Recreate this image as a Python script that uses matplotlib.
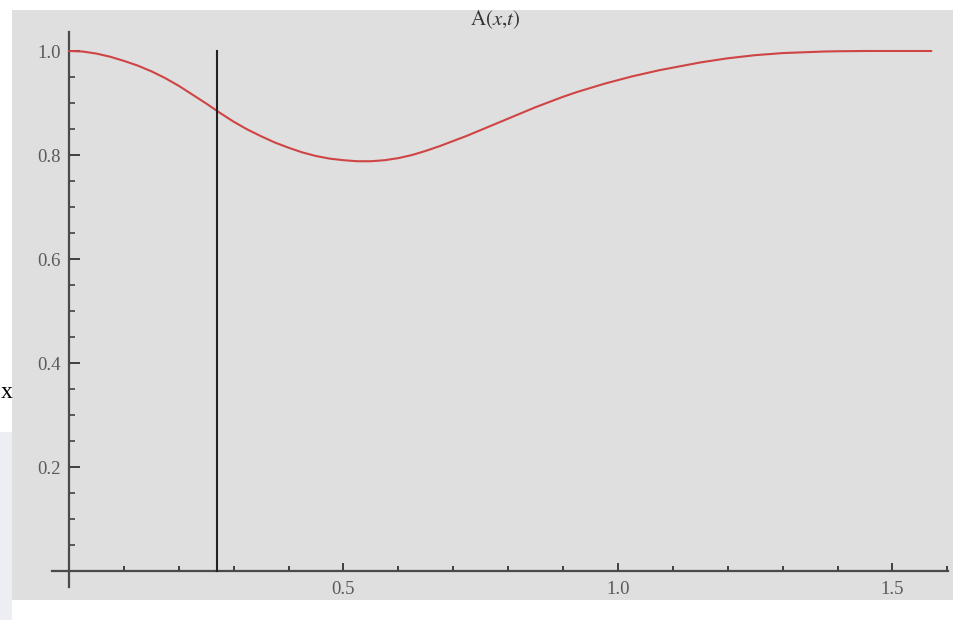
import matplotlib
matplotlib.use("Agg")
import matplotlib.pyplot as plt
from matplotlib.patches import Rectangle
from matplotlib.ticker import FixedLocator, MultipleLocator

# Profile A(x, t) sampled along x in [0, pi/2]
x_vals = [0.000, 0.025, 0.050, 0.075, 0.100, 0.125, 0.150, 0.175, 0.200, 0.225,
          0.250, 0.275, 0.300, 0.325, 0.350, 0.375, 0.400, 0.425, 0.450, 0.475,
          0.500, 0.525, 0.550, 0.575, 0.600, 0.625, 0.650, 0.675, 0.700, 0.725,
          0.750, 0.775, 0.800, 0.825, 0.850, 0.875, 0.900, 0.925, 0.950, 0.975,
          1.000, 1.025, 1.050, 1.075, 1.100, 1.125, 1.150, 1.175, 1.200, 1.225,
          1.250, 1.275, 1.300, 1.325, 1.350, 1.375, 1.400, 1.450, 1.500, 1.5708]
a_vals = [1.000, 0.999, 0.995, 0.989, 0.981, 0.972, 0.961, 0.948, 0.933, 0.916,
          0.899, 0.881, 0.864, 0.849, 0.836, 0.824, 0.814, 0.805, 0.798, 0.793,
          0.790, 0.788, 0.788, 0.790, 0.794, 0.800, 0.808, 0.817, 0.827, 0.837,
          0.848, 0.859, 0.870, 0.881, 0.892, 0.902, 0.912, 0.921, 0.929, 0.937,
          0.944, 0.951, 0.957, 0.963, 0.968, 0.973, 0.978, 0.982, 0.986, 0.989,
          0.992, 0.994, 0.996, 0.997, 0.998, 0.999, 0.9995, 1.000, 1.000, 1.000]

# Marker line position
x_marker = 0.27
marker_span = [0.0, 1.0]

x_major = [0.5, 1.0, 1.5]
x_labels = ["0.5", "1.0", "1.5"]
y_major = [0.2, 0.4, 0.6, 0.8, 1.0]
y_labels = ["0.2", "0.4", "0.6", "0.8", "1.0"]

W, H = 954, 620
fig = plt.figure(figsize=(W / 100, H / 100), dpi=100, facecolor="white")

# Background panels
fig.patches.append(Rectangle((12 / W, 1 - 600 / H), (W - 12) / W, 590 / H,
                             transform=fig.transFigure, facecolor="#dfdfdf",
                             edgecolor="none", zorder=-10))
fig.patches.append(Rectangle((0, 0), 12 / W, (H - 432) / H,
                             transform=fig.transFigure, facecolor="#eceef3",
                             edgecolor="none", zorder=-10))

# Axes placement: x=0 at px 69, 549 px per unit; y=0 at py 571, 520 px per unit
x0_px, sx = 69, 549
y0_px, sy = 571, 520
left_px, right_px = 52, 948
top_px, bot_px = 32, 587
xlim = ((left_px - x0_px) / sx, (right_px - x0_px) / sx)
ylim = ((y0_px - bot_px) / sy, (y0_px - top_px) / sy)

ax = fig.add_axes([left_px / W, 1 - bot_px / H,
                   (right_px - left_px) / W, (bot_px - top_px) / H])
ax.set_zorder(5)
ax.set_facecolor("none")
ax.set_xlim(*xlim)
ax.set_ylim(*ylim)

for side in ("top", "right"):
    ax.spines[side].set_visible(False)
for side in ("left", "bottom"):
    ax.spines[side].set_position(("data", 0))
    ax.spines[side].set_color("#4a4a4a")
    ax.spines[side].set_linewidth(1.6)

ax.xaxis.set_major_locator(FixedLocator(x_major))
ax.xaxis.set_minor_locator(MultipleLocator(0.1))
ax.yaxis.set_major_locator(FixedLocator(y_major))
ax.yaxis.set_minor_locator(MultipleLocator(0.05))
ax.set_xticklabels(x_labels)
ax.set_yticklabels(y_labels)

serif = ["Liberation Serif", "DejaVu Serif"]
ax.tick_params(axis="both", which="major", direction="in", color="#333333",
               width=1.3, labelsize=13.5, labelcolor="#5a5a5a")
ax.tick_params(axis="x", which="major", length=6, pad=7)
ax.tick_params(axis="y", which="major", length=8, pad=6)
ax.tick_params(axis="x", which="minor", direction="in", length=3.5, width=1.3,
               color="#333333")
ax.tick_params(axis="y", which="minor", direction="in", length=4, width=1.1,
               color="#333333")
for lab in ax.get_xticklabels() + ax.get_yticklabels():
    lab.set_family(serif)

ax.plot(x_vals, a_vals, color="#cf4444", lw=1.5, solid_capstyle="round",
        solid_joinstyle="round", zorder=3)
ax.plot([x_marker, x_marker], marker_span, color="#222222", lw=1.5, zorder=4)

fig.text(495 / W, 1 - 20 / H, r"$\mathrm{A}(x{,}t)$", ha="center", va="center",
         fontsize=15, color="#333333",
         math_fontfamily="stix")
fig.text(1 / W, 1 - 393 / H, "x", ha="left", va="center", fontsize=17,
         family=serif, color="black")

fig.savefig("out.png", dpi=100, facecolor="white")
